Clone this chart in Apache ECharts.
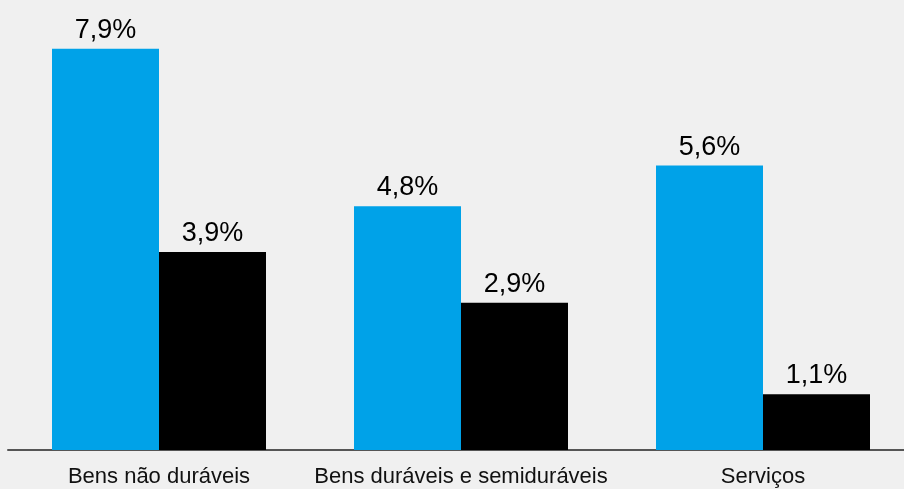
<!DOCTYPE html>
<html>
<head>
<meta charset="utf-8">
<script src="https://cdn.jsdelivr.net/npm/echarts@6/dist/echarts.min.js"></script>
<style>
  html, body { margin: 0; padding: 0; background: #f0f0f0; }
  #chart { width: 904px; height: 489px; }
</style>
</head>
<body>
<div id="chart"></div>
<script>
// categorias e valores (%)
var categories = ['Bens não duráveis', 'Bens duráveis e semiduráveis', 'Serviços']
var serieAzul = [7.9, 4.8, 5.6]
var seriePreta = [3.9, 2.9, 1.1]

var fonte = '"Liberation Sans Narrow", "Liberation Sans", Arial, sans-serif'
var chart = echarts.init(document.getElementById('chart'))

function rotulo (p) {
  return p.value.toFixed(1).replace('.', ',') + '%'
}

function rotuloStyle () {
  return {
    show: true,
    position: 'top',
    distance: 5,
    color: '#000',
    fontFamily: fonte,
    fontSize: 27,
    formatter: rotulo
  }
}

var option = {
  backgroundColor: '#f0f0f0',
  animation: false,
  grid: {
    left: 8,
    right: -10,
    top: 0,
    bottom: 39,
    outerBoundsMode: 'none'
  },
  xAxis: {
    type: 'category',
    data: categories,
    axisLine: { lineStyle: { color: '#555', width: 2 } },
    axisTick: { show: false },
    axisLabel: {
      interval: 0,
      color: '#111',
      fontFamily: fonte,
      fontSize: 22,
      margin: 16
    }
  },
  yAxis: {
    type: 'value',
    min: 0,
    max: 8.86,
    show: false,
    splitLine: { show: false }
  },
  series: [
    {
      name: 'azul',
      type: 'bar',
      data: serieAzul,
      barWidth: 107,
      barGap: '0%',
      itemStyle: { color: '#00a2e8' },
      label: rotuloStyle()
    },
    {
      name: 'preta',
      type: 'bar',
      data: seriePreta,
      barWidth: 107,
      barGap: '0%',
      itemStyle: { color: '#000' },
      label: rotuloStyle()
    }
  ]
}
chart.setOption(option)
</script>
</body>
</html>
